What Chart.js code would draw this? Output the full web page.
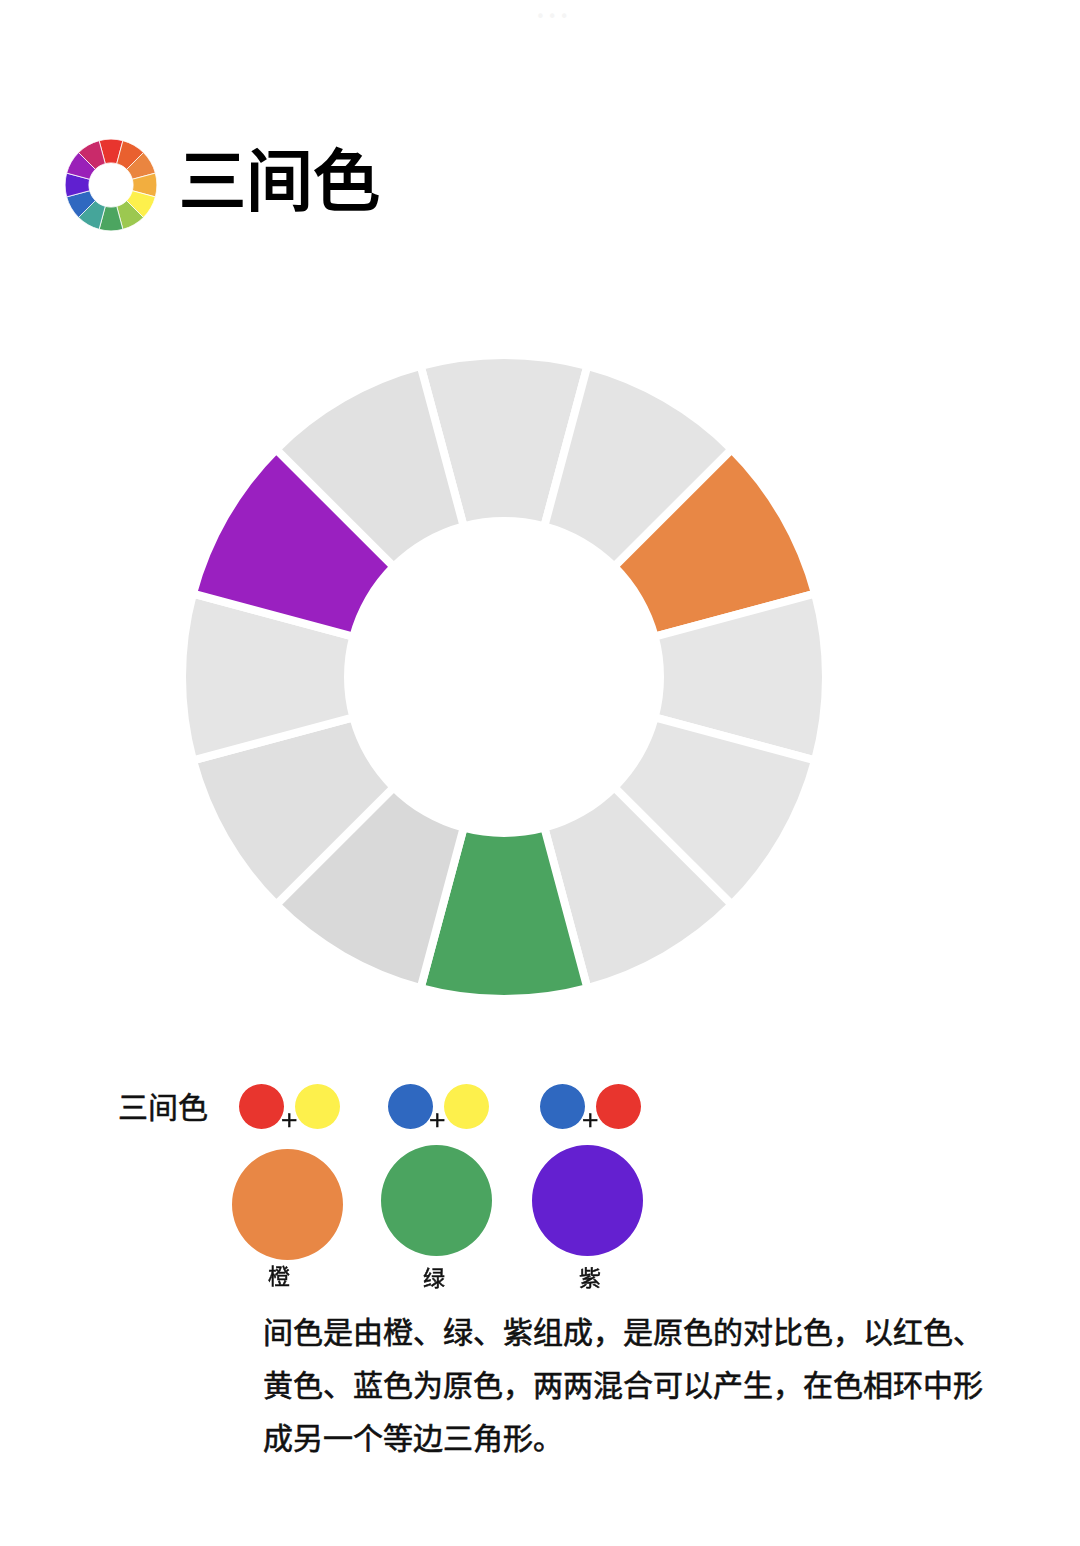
<!DOCTYPE html>
<html>
<head>
<meta charset="utf-8">
<script src="https://cdn.jsdelivr.net/npm/chart.js@4"></script>
<style>
  html, body { margin: 0; padding: 0; background: #fff; }
  body { position: relative; width: 1080px; height: 1546px; overflow: hidden; font-family: "Noto Sans CJK SC", sans-serif; color: #111; }
  .box { position: absolute; }
  .txt { position: absolute; white-space: nowrap; line-height: 1; }
  #dots { left: 536px; top: 10px; font-size: 15px; letter-spacing: 3px; color: #f5f5f5; font-family: "DejaVu Sans", sans-serif; }
  #title { left: 179px; top: 142px; font-size: 67px; color: #000; -webkit-text-stroke: 2.2px #000; }
  #sub { left: 118px; top: 1090px; font-size: 30px; -webkit-text-stroke: 0.5px #111; }
  .para { left: 263px; font-size: 30px; -webkit-text-stroke: 0.6px #111; }
  .name { font-size: 22px; -webkit-text-stroke: 0.5px #111; }
  .plus { font-size: 22px; font-family: "DejaVu Sans", sans-serif; -webkit-text-stroke: 0.5px #111; }
</style>
</head>
<body>
<div class="txt" id="dots">•••</div>
<div class="txt" id="title">三间色</div>
<div class="box" style="left:154px;top:327px;width:700px;height:700px"><canvas id="wheel"></canvas></div>
<div class="box" style="left:61px;top:135px;width:100px;height:100px"><canvas id="logo"></canvas></div>
<div class="txt" id="sub">三间色</div>
<div id="mixes"></div>
<div id="texts"></div>

<script>
Chart.defaults.animation = false;
Chart.defaults.responsive = false;

const hues = ['红', '红橙', '橙', '黄橙', '黄', '黄绿', '绿', '蓝绿', '蓝', '蓝紫', '紫', '红紫'];
const wheelValues = [1, 1, 1, 1, 1, 1, 1, 1, 1, 1, 1, 1];
const wheelColors = ['#e4e4e4', '#e4e4e4', '#e88745', '#e6e6e6', '#e5e5e5', '#e3e3e3', '#4ba460', '#d9d9d9', '#e0e0e0', '#e5e5e5', '#9a20c0', '#e1e1e1'];
const logoColors = ['#e8352e', '#e9602f', '#ea8540', '#f2ae3f', '#fdf04c', '#9cc850', '#4ca560', '#45a59a', '#2f68c0', '#6020d0', '#9a20b8', '#c92a6a'];

const mixLeft = ['#e8352e', '#2f68c0', '#2f68c0'];
const mixRight = ['#fdf04c', '#fdf04c', '#e8352e'];
const mixResult = ['#e88745', '#4ba460', '#6420d0'];
const mixNames = ['橙', '绿', '紫'];
const paragraph = [
  '间色是由橙、绿、紫组成，是原色的对比色，以红色、',
  '黄色、蓝色为原色，两两混合可以产生，在色相环中形',
  '成另一个等边三角形。'
];

// ring with the first slice centred on 12 o'clock, white border makes the gaps
function ring(canvas, size, colors, outer, inner, gap) {
  canvas.width = size;
  canvas.height = size;
  return new Chart(canvas.getContext('2d'), {
    type: 'doughnut',
    data: {
      labels: hues,
      datasets: [{ data: wheelValues, backgroundColor: colors, borderColor: '#fff', borderWidth: gap, borderAlign: 'center' }]
    },
    options: {
      rotation: -15,
      radius: outer + gap / 2,
      cutout: ((inner - gap / 2) / (outer + gap / 2) * 100) + '%',
      layout: { padding: 0 },
      plugins: { legend: { display: false }, tooltip: { enabled: false } }
    }
  });
}

ring(document.getElementById('wheel'), 700, wheelColors, 318, 160, 8);
ring(document.getElementById('logo'), 100, logoColors, 45.5, 22.5, 0.8);

// a single filled circle, one pie each
function dot(left, top, size, name, color) {
  const box = document.createElement('div');
  box.className = 'box';
  box.style.cssText = `left:${left}px;top:${top}px;width:${size}px;height:${size}px`;
  const canvas = document.createElement('canvas');
  canvas.width = size;
  canvas.height = size;
  box.appendChild(canvas);
  document.getElementById('mixes').appendChild(box);
  new Chart(canvas.getContext('2d'), {
    type: 'pie',
    data: { labels: [name], datasets: [{ data: [1], backgroundColor: [color], borderWidth: 0 }] },
    options: { plugins: { legend: { display: false }, tooltip: { enabled: false } } }
  });
}

function text(cls, left, top, str) {
  const el = document.createElement('div');
  el.className = 'txt ' + cls;
  el.style.left = left + 'px';
  el.style.top = top + 'px';
  el.textContent = str;
  document.getElementById('texts').appendChild(el);
}

const leftX = [239, 388, 540];
const rightX = [295, 444, 596];
const resultX = [232, 381, 532];
const resultY = [1149, 1145, 1145];
const plusX = [280, 428, 581];
const nameX = [268, 423, 579];
const nameY = [1263, 1265, 1265];

mixNames.forEach((name, i) => {
  dot(leftX[i], 1084, 45, name, mixLeft[i]);
  dot(rightX[i], 1084, 45, name, mixRight[i]);
  dot(resultX[i], resultY[i], 111, name, mixResult[i]);
  text('plus', plusX[i], 1109, '+');
  text('name', nameX[i], nameY[i], name);
});

paragraph.forEach((line, i) => {
  text('para', 263, 1315 + i * 53, line);
});
</script>
</body>
</html>
